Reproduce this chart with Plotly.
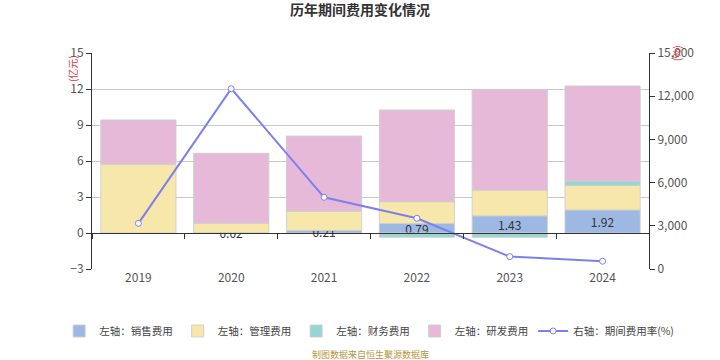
import plotly.graph_objects as go

years = ["2019", "2020", "2021", "2022", "2023", "2024"]
sales = [0, 0.02, 0.21, 0.79, 1.43, 1.92]
sales_text = ["", "0.02", "0.21", "0.79", "1.43", "1.92"]
admin = [5.75, 0.81, 1.62, 1.82, 2.15, 2.05]
finance = [0, 0, 0, -0.35, -0.35, 0.36]
rnd = [3.67, 5.81, 6.25, 7.64, 8.39, 7.92]
rate = [3170, 12520, 4980, 3520, 860, 540]

FONT = "Noto Sans CJK SC, Noto Sans, sans-serif"
edge = dict(color="rgba(205,205,205,0.9)", width=1)

fig = go.Figure()
fig.add_bar(x=years, y=sales, name="左轴：销售费用", marker=dict(color="#9db9e3", line=edge),
            text=sales_text, textposition="inside", insidetextanchor="middle",
            textfont=dict(color="#333", size=12), constraintext="none")
fig.add_bar(x=years, y=admin, name="左轴：管理费用", marker=dict(color="#f8e7aa", line=edge))
fig.add_bar(x=years, y=finance, name="左轴：财务费用", marker=dict(color="#95d6d5", line=edge))
fig.add_bar(x=years, y=rnd, name="左轴：研发费用", marker=dict(color="#e7b9d9", line=edge))
fig.add_scatter(x=years, y=rate, name="右轴：期间费用率(%)", xaxis="x2", yaxis="y2",
                mode="lines+markers",
                line=dict(color="#7b80ee", width=2),
                marker=dict(symbol="circle", size=6, color="white", line=dict(color="#7b80ee", width=1)))

fig.update_layout(
    width=720, height=360,
    barmode="relative", bargap=0.19,
    paper_bgcolor="white", plot_bgcolor="white",
    margin=dict(l=92, r=71, t=53, b=91, autoexpand=False),
    font=dict(family=FONT, size=12, color="#555"),
    title=dict(text="<b>历年期间费用变化情况</b>", x=0.5, xanchor="center", y=0.971, yanchor="middle",
               font=dict(size=14, color="#333")),
    uniformtext=dict(minsize=12, mode="show"),
    xaxis=dict(type="category", categoryarray=years, range=[-0.5, 5.5], showline=False,
               ticks="", showgrid=False, tickfont=dict(size=12, color="#555"), automargin=False),
    xaxis2=dict(type="category", categoryarray=years, range=[-0.5, 5.5], overlaying="x",
                anchor="free", position=1/6, showline=True, linecolor="#333", linewidth=1,
                ticks="outside", tickson="boundaries", ticklen=5, tickcolor="#333",
                showticklabels=False, showgrid=False, automargin=False),
    yaxis=dict(range=[-3, 15], tickvals=[-3, 0, 3, 6, 9, 12, 15], showgrid=True,
               gridcolor="#c8c8c8", gridwidth=1, zeroline=False, showline=True, linecolor="#333",
               linewidth=1, ticks="outside", ticklen=5, tickcolor="#333",
               tickfont=dict(size=12, color="#555"), automargin=False),
    yaxis2=dict(range=[0, 15000], tickvals=[0, 3000, 6000, 9000, 12000, 15000], tickformat=",d",
                overlaying="y", side="right", anchor="x", showgrid=False, zeroline=False,
                showline=True, linecolor="#333", linewidth=1, ticks="outside", ticklen=5,
                tickcolor="#333", tickfont=dict(size=12, color="#555"), automargin=False),
    legend=dict(orientation="h", x=-0.059, xanchor="left", y=-0.287, yanchor="middle",
                font=dict(size=10.5, color="#444"), traceorder="normal", itemwidth=30),
    showlegend=True,
)

fig.add_annotation(text="(亿元)", xref="paper", yref="paper", x=-0.052, y=1.0, yanchor="top",
                   textangle=-90, showarrow=False, font=dict(size=10, color="#d9363e"))
fig.add_annotation(text="(%)", xref="paper", yref="paper", x=1.066, y=1.0, yanchor="middle",
                   textangle=-90, showarrow=False, font=dict(size=10, color="#d9363e"))
fig.add_annotation(text="制图数据来自恒生聚源数据库", xref="paper", yref="paper", x=0.5, y=-0.394,
                   xanchor="center", yanchor="middle", showarrow=False,
                   font=dict(size=9, color="#b8963e"))

fig.write_html("out.html", config={"displayModeBar": False},
               post_script="document.body.style.margin='0px';")
